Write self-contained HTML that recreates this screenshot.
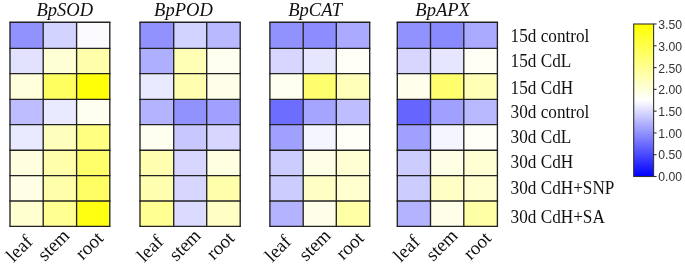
<!DOCTYPE html>
<html><head><meta charset="utf-8"><style>
html,body{margin:0;padding:0;background:#fff;}
svg{display:block;filter:blur(0.3px);}
.t{font-family:"Liberation Serif",serif;fill:#111;}
.s{font-family:"Liberation Sans",sans-serif;fill:#333;}
</style></head><body>
<svg width="685" height="267" viewBox="0 0 685 267">
<defs><linearGradient id="cb" x1="0" y1="1" x2="0" y2="0">
<stop offset="0" stop-color="#0000ff"/><stop offset="0.5" stop-color="#ffffff"/><stop offset="1" stop-color="#ffff00"/>
</linearGradient></defs>

<rect x="10.00" y="22.20" width="33.20" height="26.10" fill="#9292ff"/>
<rect x="43.20" y="22.20" width="33.40" height="26.10" fill="#d3d3ff"/>
<rect x="76.60" y="22.20" width="33.20" height="26.10" fill="#fbfbff"/>
<rect x="10.00" y="48.30" width="33.20" height="25.30" fill="#e2e2ff"/>
<rect x="43.20" y="48.30" width="33.40" height="25.30" fill="#ffffd6"/>
<rect x="76.60" y="48.30" width="33.20" height="25.30" fill="#ffffaa"/>
<rect x="10.00" y="73.60" width="33.20" height="25.70" fill="#ffffdb"/>
<rect x="43.20" y="73.60" width="33.40" height="25.70" fill="#ffff5f"/>
<rect x="76.60" y="73.60" width="33.20" height="25.70" fill="#ffff07"/>
<rect x="10.00" y="99.30" width="33.20" height="25.30" fill="#bdbdff"/>
<rect x="43.20" y="99.30" width="33.40" height="25.30" fill="#e9e9ff"/>
<rect x="76.60" y="99.30" width="33.20" height="25.30" fill="#fffff0"/>
<rect x="10.00" y="124.60" width="33.20" height="25.60" fill="#e9e9ff"/>
<rect x="43.20" y="124.60" width="33.40" height="25.60" fill="#ffffbd"/>
<rect x="76.60" y="124.60" width="33.20" height="25.60" fill="#ffff80"/>
<rect x="10.00" y="150.20" width="33.20" height="25.40" fill="#ffffdf"/>
<rect x="43.20" y="150.20" width="33.40" height="25.40" fill="#ffffaa"/>
<rect x="76.60" y="150.20" width="33.20" height="25.40" fill="#ffff6a"/>
<rect x="10.00" y="175.60" width="33.20" height="25.40" fill="#ffffe5"/>
<rect x="43.20" y="175.60" width="33.40" height="25.40" fill="#ffffaa"/>
<rect x="76.60" y="175.60" width="33.20" height="25.40" fill="#ffff63"/>
<rect x="10.00" y="201.00" width="33.20" height="25.40" fill="#ffffcf"/>
<rect x="43.20" y="201.00" width="33.40" height="25.40" fill="#ffff92"/>
<rect x="76.60" y="201.00" width="33.20" height="25.40" fill="#ffff11"/>
<line x1="9.32" y1="22.20" x2="110.47" y2="22.20" stroke="#222" stroke-width="1.35"/>
<line x1="9.32" y1="48.30" x2="110.47" y2="48.30" stroke="#222" stroke-width="1.35"/>
<line x1="9.32" y1="73.60" x2="110.47" y2="73.60" stroke="#222" stroke-width="1.35"/>
<line x1="9.32" y1="99.30" x2="110.47" y2="99.30" stroke="#222" stroke-width="1.35"/>
<line x1="9.32" y1="124.60" x2="110.47" y2="124.60" stroke="#222" stroke-width="1.35"/>
<line x1="9.32" y1="150.20" x2="110.47" y2="150.20" stroke="#222" stroke-width="1.35"/>
<line x1="9.32" y1="175.60" x2="110.47" y2="175.60" stroke="#222" stroke-width="1.35"/>
<line x1="9.32" y1="201.00" x2="110.47" y2="201.00" stroke="#222" stroke-width="1.35"/>
<line x1="9.32" y1="226.40" x2="110.47" y2="226.40" stroke="#222" stroke-width="1.35"/>
<line x1="10.00" y1="22.20" x2="10.00" y2="226.40" stroke="#222" stroke-width="1.35"/>
<line x1="43.20" y1="22.20" x2="43.20" y2="226.40" stroke="#222" stroke-width="1.35"/>
<line x1="76.60" y1="22.20" x2="76.60" y2="226.40" stroke="#222" stroke-width="1.35"/>
<line x1="109.80" y1="22.20" x2="109.80" y2="226.40" stroke="#222" stroke-width="1.35"/>
<text class="t" font-size="18.2" font-style="italic" transform="translate(36.40,16.0) scale(1.02,1)">BpSOD</text>
<text class="t" font-size="19" text-anchor="end" transform="translate(33.70,242.80) rotate(-45)">leaf</text>
<text class="t" font-size="19" text-anchor="end" transform="translate(70.40,236.70) rotate(-45)">stem</text>
<text class="t" font-size="19" text-anchor="end" transform="translate(104.50,239.20) rotate(-45)">root</text>
<rect x="140.00" y="22.20" width="33.70" height="26.10" fill="#9292ff"/>
<rect x="173.70" y="22.20" width="33.00" height="26.10" fill="#d3d3ff"/>
<rect x="206.70" y="22.20" width="33.50" height="26.10" fill="#b9b9ff"/>
<rect x="140.00" y="48.30" width="33.70" height="25.30" fill="#afafff"/>
<rect x="173.70" y="48.30" width="33.00" height="25.30" fill="#ffffb6"/>
<rect x="206.70" y="48.30" width="33.50" height="25.30" fill="#fffff0"/>
<rect x="140.00" y="73.60" width="33.70" height="25.70" fill="#e9e9ff"/>
<rect x="173.70" y="73.60" width="33.00" height="25.70" fill="#ffffaf"/>
<rect x="206.70" y="73.60" width="33.50" height="25.70" fill="#ffffe9"/>
<rect x="140.00" y="99.30" width="33.70" height="25.30" fill="#b3b3ff"/>
<rect x="173.70" y="99.30" width="33.00" height="25.30" fill="#9292ff"/>
<rect x="206.70" y="99.30" width="33.50" height="25.30" fill="#a0a0ff"/>
<rect x="140.00" y="124.60" width="33.70" height="25.60" fill="#fffff0"/>
<rect x="173.70" y="124.60" width="33.00" height="25.60" fill="#c8c8ff"/>
<rect x="206.70" y="124.60" width="33.50" height="25.60" fill="#d6d6ff"/>
<rect x="140.00" y="150.20" width="33.70" height="25.40" fill="#ffffaf"/>
<rect x="173.70" y="150.20" width="33.00" height="25.40" fill="#d6d6ff"/>
<rect x="206.70" y="150.20" width="33.50" height="25.40" fill="#ffffe2"/>
<rect x="140.00" y="175.60" width="33.70" height="25.40" fill="#ffffaf"/>
<rect x="173.70" y="175.60" width="33.00" height="25.40" fill="#d6d6ff"/>
<rect x="206.70" y="175.60" width="33.50" height="25.40" fill="#ffffaa"/>
<rect x="140.00" y="201.00" width="33.70" height="25.40" fill="#ffff92"/>
<rect x="173.70" y="201.00" width="33.00" height="25.40" fill="#dbdbff"/>
<rect x="206.70" y="201.00" width="33.50" height="25.40" fill="#ffffc5"/>
<line x1="139.32" y1="22.20" x2="240.88" y2="22.20" stroke="#222" stroke-width="1.35"/>
<line x1="139.32" y1="48.30" x2="240.88" y2="48.30" stroke="#222" stroke-width="1.35"/>
<line x1="139.32" y1="73.60" x2="240.88" y2="73.60" stroke="#222" stroke-width="1.35"/>
<line x1="139.32" y1="99.30" x2="240.88" y2="99.30" stroke="#222" stroke-width="1.35"/>
<line x1="139.32" y1="124.60" x2="240.88" y2="124.60" stroke="#222" stroke-width="1.35"/>
<line x1="139.32" y1="150.20" x2="240.88" y2="150.20" stroke="#222" stroke-width="1.35"/>
<line x1="139.32" y1="175.60" x2="240.88" y2="175.60" stroke="#222" stroke-width="1.35"/>
<line x1="139.32" y1="201.00" x2="240.88" y2="201.00" stroke="#222" stroke-width="1.35"/>
<line x1="139.32" y1="226.40" x2="240.88" y2="226.40" stroke="#222" stroke-width="1.35"/>
<line x1="140.00" y1="22.20" x2="140.00" y2="226.40" stroke="#222" stroke-width="1.35"/>
<line x1="173.70" y1="22.20" x2="173.70" y2="226.40" stroke="#222" stroke-width="1.35"/>
<line x1="206.70" y1="22.20" x2="206.70" y2="226.40" stroke="#222" stroke-width="1.35"/>
<line x1="240.20" y1="22.20" x2="240.20" y2="226.40" stroke="#222" stroke-width="1.35"/>
<text class="t" font-size="18.2" font-style="italic" transform="translate(154.10,16.0) scale(1.02,1)">BpPOD</text>
<text class="t" font-size="19" text-anchor="end" transform="translate(164.40,242.80) rotate(-45)">leaf</text>
<text class="t" font-size="19" text-anchor="end" transform="translate(201.80,236.70) rotate(-45)">stem</text>
<text class="t" font-size="19" text-anchor="end" transform="translate(235.40,239.20) rotate(-45)">root</text>
<rect x="269.90" y="22.20" width="33.30" height="26.10" fill="#9292ff"/>
<rect x="303.20" y="22.20" width="33.10" height="26.10" fill="#8d8dff"/>
<rect x="336.30" y="22.20" width="33.40" height="26.10" fill="#aaaaff"/>
<rect x="269.90" y="48.30" width="33.30" height="25.30" fill="#d6d6ff"/>
<rect x="303.20" y="48.30" width="33.10" height="25.30" fill="#e6e6ff"/>
<rect x="336.30" y="48.30" width="33.40" height="25.30" fill="#fffff8"/>
<rect x="269.90" y="73.60" width="33.30" height="25.70" fill="#fffff0"/>
<rect x="303.20" y="73.60" width="33.10" height="25.70" fill="#ffff6d"/>
<rect x="336.30" y="73.60" width="33.40" height="25.70" fill="#ffffb9"/>
<rect x="269.90" y="99.30" width="33.30" height="25.30" fill="#6d6dff"/>
<rect x="303.20" y="99.30" width="33.10" height="25.30" fill="#a5a5ff"/>
<rect x="336.30" y="99.30" width="33.40" height="25.30" fill="#bdbdff"/>
<rect x="269.90" y="124.60" width="33.30" height="25.60" fill="#a0a0ff"/>
<rect x="303.20" y="124.60" width="33.10" height="25.60" fill="#f5f5ff"/>
<rect x="336.30" y="124.60" width="33.40" height="25.60" fill="#fffff8"/>
<rect x="269.90" y="150.20" width="33.30" height="25.40" fill="#ccccff"/>
<rect x="303.20" y="150.20" width="33.10" height="25.40" fill="#ffffe6"/>
<rect x="336.30" y="150.20" width="33.40" height="25.40" fill="#ffffd3"/>
<rect x="269.90" y="175.60" width="33.30" height="25.40" fill="#ccccff"/>
<rect x="303.20" y="175.60" width="33.10" height="25.40" fill="#ffffc5"/>
<rect x="336.30" y="175.60" width="33.40" height="25.40" fill="#ffffcf"/>
<rect x="269.90" y="201.00" width="33.30" height="25.40" fill="#b3b3ff"/>
<rect x="303.20" y="201.00" width="33.10" height="25.40" fill="#ffffe9"/>
<rect x="336.30" y="201.00" width="33.40" height="25.40" fill="#ffffa5"/>
<line x1="269.22" y1="22.20" x2="370.38" y2="22.20" stroke="#222" stroke-width="1.35"/>
<line x1="269.22" y1="48.30" x2="370.38" y2="48.30" stroke="#222" stroke-width="1.35"/>
<line x1="269.22" y1="73.60" x2="370.38" y2="73.60" stroke="#222" stroke-width="1.35"/>
<line x1="269.22" y1="99.30" x2="370.38" y2="99.30" stroke="#222" stroke-width="1.35"/>
<line x1="269.22" y1="124.60" x2="370.38" y2="124.60" stroke="#222" stroke-width="1.35"/>
<line x1="269.22" y1="150.20" x2="370.38" y2="150.20" stroke="#222" stroke-width="1.35"/>
<line x1="269.22" y1="175.60" x2="370.38" y2="175.60" stroke="#222" stroke-width="1.35"/>
<line x1="269.22" y1="201.00" x2="370.38" y2="201.00" stroke="#222" stroke-width="1.35"/>
<line x1="269.22" y1="226.40" x2="370.38" y2="226.40" stroke="#222" stroke-width="1.35"/>
<line x1="269.90" y1="22.20" x2="269.90" y2="226.40" stroke="#222" stroke-width="1.35"/>
<line x1="303.20" y1="22.20" x2="303.20" y2="226.40" stroke="#222" stroke-width="1.35"/>
<line x1="336.30" y1="22.20" x2="336.30" y2="226.40" stroke="#222" stroke-width="1.35"/>
<line x1="369.70" y1="22.20" x2="369.70" y2="226.40" stroke="#222" stroke-width="1.35"/>
<text class="t" font-size="18.2" font-style="italic" transform="translate(288.20,16.0) scale(1.02,1)">BpCAT</text>
<text class="t" font-size="19" text-anchor="end" transform="translate(292.30,242.80) rotate(-45)">leaf</text>
<text class="t" font-size="19" text-anchor="end" transform="translate(331.70,236.70) rotate(-45)">stem</text>
<text class="t" font-size="19" text-anchor="end" transform="translate(364.90,239.20) rotate(-45)">root</text>
<rect x="397.30" y="22.20" width="33.20" height="26.10" fill="#9292ff"/>
<rect x="430.50" y="22.20" width="33.30" height="26.10" fill="#8a8aff"/>
<rect x="463.80" y="22.20" width="33.60" height="26.10" fill="#aaaaff"/>
<rect x="397.30" y="48.30" width="33.20" height="25.30" fill="#d6d6ff"/>
<rect x="430.50" y="48.30" width="33.30" height="25.30" fill="#e6e6ff"/>
<rect x="463.80" y="48.30" width="33.60" height="25.30" fill="#fffff5"/>
<rect x="397.30" y="73.60" width="33.20" height="25.70" fill="#ffffec"/>
<rect x="430.50" y="73.60" width="33.30" height="25.70" fill="#ffff6d"/>
<rect x="463.80" y="73.60" width="33.60" height="25.70" fill="#ffffb6"/>
<rect x="397.30" y="99.30" width="33.20" height="25.30" fill="#6666ff"/>
<rect x="430.50" y="99.30" width="33.30" height="25.30" fill="#a0a0ff"/>
<rect x="463.80" y="99.30" width="33.60" height="25.30" fill="#b9b9ff"/>
<rect x="397.30" y="124.60" width="33.20" height="25.60" fill="#a0a0ff"/>
<rect x="430.50" y="124.60" width="33.30" height="25.60" fill="#f5f5ff"/>
<rect x="463.80" y="124.60" width="33.60" height="25.60" fill="#fffff8"/>
<rect x="397.30" y="150.20" width="33.20" height="25.40" fill="#ccccff"/>
<rect x="430.50" y="150.20" width="33.30" height="25.40" fill="#ffffe6"/>
<rect x="463.80" y="150.20" width="33.60" height="25.40" fill="#ffffd3"/>
<rect x="397.30" y="175.60" width="33.20" height="25.40" fill="#ccccff"/>
<rect x="430.50" y="175.60" width="33.30" height="25.40" fill="#ffffc5"/>
<rect x="463.80" y="175.60" width="33.60" height="25.40" fill="#ffffcf"/>
<rect x="397.30" y="201.00" width="33.20" height="25.40" fill="#b3b3ff"/>
<rect x="430.50" y="201.00" width="33.30" height="25.40" fill="#ffffe9"/>
<rect x="463.80" y="201.00" width="33.60" height="25.40" fill="#ffffa5"/>
<line x1="396.62" y1="22.20" x2="498.07" y2="22.20" stroke="#222" stroke-width="1.35"/>
<line x1="396.62" y1="48.30" x2="498.07" y2="48.30" stroke="#222" stroke-width="1.35"/>
<line x1="396.62" y1="73.60" x2="498.07" y2="73.60" stroke="#222" stroke-width="1.35"/>
<line x1="396.62" y1="99.30" x2="498.07" y2="99.30" stroke="#222" stroke-width="1.35"/>
<line x1="396.62" y1="124.60" x2="498.07" y2="124.60" stroke="#222" stroke-width="1.35"/>
<line x1="396.62" y1="150.20" x2="498.07" y2="150.20" stroke="#222" stroke-width="1.35"/>
<line x1="396.62" y1="175.60" x2="498.07" y2="175.60" stroke="#222" stroke-width="1.35"/>
<line x1="396.62" y1="201.00" x2="498.07" y2="201.00" stroke="#222" stroke-width="1.35"/>
<line x1="396.62" y1="226.40" x2="498.07" y2="226.40" stroke="#222" stroke-width="1.35"/>
<line x1="397.30" y1="22.20" x2="397.30" y2="226.40" stroke="#222" stroke-width="1.35"/>
<line x1="430.50" y1="22.20" x2="430.50" y2="226.40" stroke="#222" stroke-width="1.35"/>
<line x1="463.80" y1="22.20" x2="463.80" y2="226.40" stroke="#222" stroke-width="1.35"/>
<line x1="497.40" y1="22.20" x2="497.40" y2="226.40" stroke="#222" stroke-width="1.35"/>
<text class="t" font-size="18.2" font-style="italic" transform="translate(415.30,16.0) scale(1.02,1)">BpAPX</text>
<text class="t" font-size="19" text-anchor="end" transform="translate(421.00,242.80) rotate(-45)">leaf</text>
<text class="t" font-size="19" text-anchor="end" transform="translate(458.60,236.70) rotate(-45)">stem</text>
<text class="t" font-size="19" text-anchor="end" transform="translate(492.35,239.20) rotate(-45)">root</text>
<text class="t" font-size="17.2" transform="translate(510.6,42.20) scale(1,1.080)">15d control</text>
<text class="t" font-size="17.2" transform="translate(510.6,66.80) scale(1,1.080)">15d CdL</text>
<text class="t" font-size="17.2" transform="translate(510.6,93.60) scale(1,1.080)">15d CdH</text>
<text class="t" font-size="17.2" transform="translate(510.6,118.20) scale(1,1.080)">30d control</text>
<text class="t" font-size="17.2" transform="translate(510.6,143.40) scale(1,1.080)">30d CdL</text>
<text class="t" font-size="17.2" transform="translate(510.6,168.40) scale(1,1.080)">30d CdH</text>
<text class="t" font-size="17.2" transform="translate(510.6,194.30) scale(1,1.080)">30d CdH+SNP</text>
<text class="t" font-size="17.2" transform="translate(510.6,222.90) scale(1,1.080)">30d CdH+SA</text>
<rect x="633.70" y="24.00" width="19.90" height="152.50" fill="url(#cb)" stroke="#333" stroke-width="1.1"/>
<line x1="653.60" y1="24.00" x2="656.60" y2="24.00" stroke="#333" stroke-width="1.1"/>
<text class="s" font-size="12.2" transform="translate(658.3,29.35) scale(1,1.06)">3.50</text>
<line x1="653.60" y1="45.79" x2="656.60" y2="45.79" stroke="#333" stroke-width="1.1"/>
<text class="s" font-size="12.2" transform="translate(658.3,51.04) scale(1,1.06)">3.00</text>
<line x1="653.60" y1="67.57" x2="656.60" y2="67.57" stroke="#333" stroke-width="1.1"/>
<text class="s" font-size="12.2" transform="translate(658.3,72.73) scale(1,1.06)">2.50</text>
<line x1="653.60" y1="89.36" x2="656.60" y2="89.36" stroke="#333" stroke-width="1.1"/>
<text class="s" font-size="12.2" transform="translate(658.3,94.42) scale(1,1.06)">2.00</text>
<line x1="653.60" y1="111.14" x2="656.60" y2="111.14" stroke="#333" stroke-width="1.1"/>
<text class="s" font-size="12.2" transform="translate(658.3,116.11) scale(1,1.06)">1.50</text>
<line x1="653.60" y1="132.93" x2="656.60" y2="132.93" stroke="#333" stroke-width="1.1"/>
<text class="s" font-size="12.2" transform="translate(658.3,137.80) scale(1,1.06)">1.00</text>
<line x1="653.60" y1="154.71" x2="656.60" y2="154.71" stroke="#333" stroke-width="1.1"/>
<text class="s" font-size="12.2" transform="translate(658.3,159.49) scale(1,1.06)">0.50</text>
<line x1="653.60" y1="176.50" x2="656.60" y2="176.50" stroke="#333" stroke-width="1.1"/>
<text class="s" font-size="12.2" transform="translate(658.3,181.18) scale(1,1.06)">0.00</text>
</svg></body></html>
